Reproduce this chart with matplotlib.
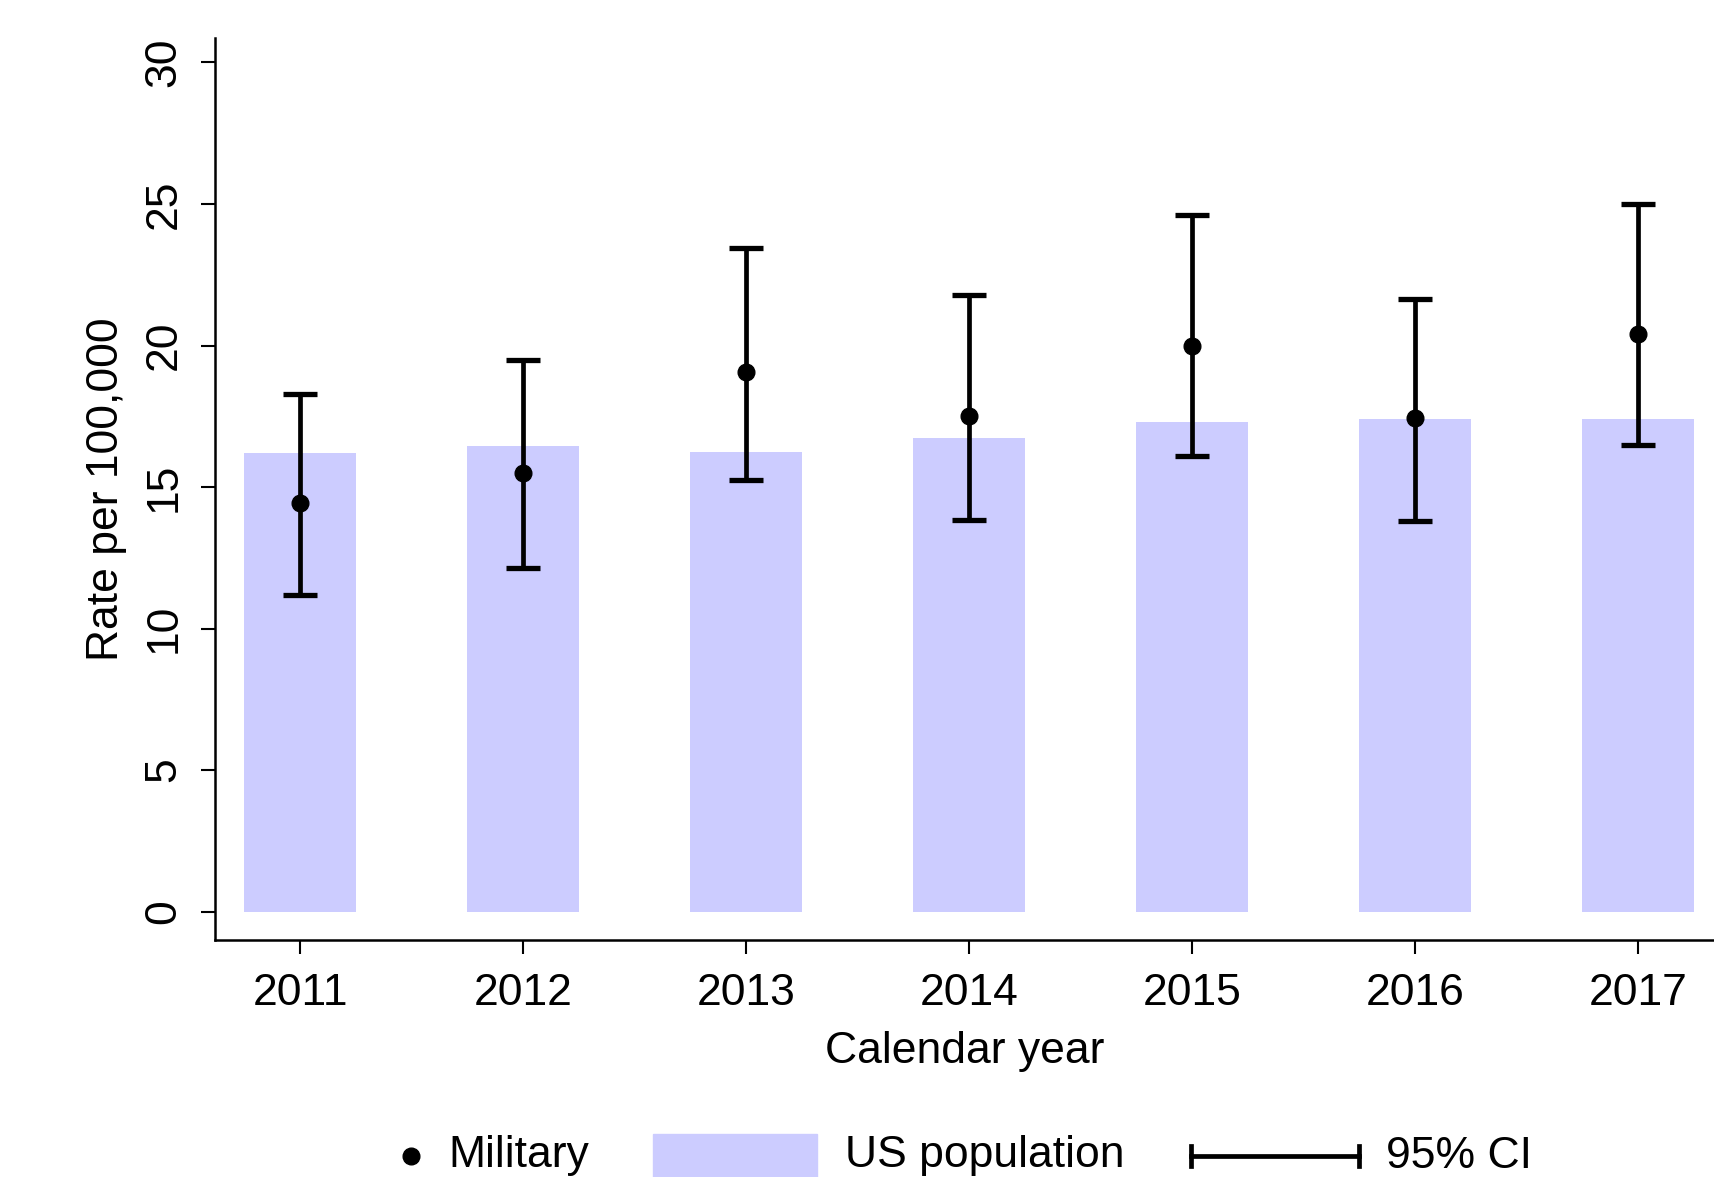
import matplotlib.pyplot as plt
from matplotlib.patches import Rectangle
from matplotlib.lines import Line2D

plt.rcParams['font.family'] = ['Liberation Sans', 'DejaVu Sans']

# Data
years = [2011, 2012, 2013, 2014, 2015, 2016, 2017]
us_population = [16.2, 16.45, 16.25, 16.75, 17.3, 17.4, 17.4]
military = [14.45, 15.5, 19.05, 17.5, 20.0, 17.45, 20.4]
ci_low = [11.2, 12.15, 15.25, 13.85, 16.1, 13.8, 16.5]
ci_high = [18.3, 19.5, 23.45, 21.8, 24.6, 21.65, 25.0]

bar_color = '#ccccff'

fig = plt.figure(figsize=(17.14, 11.77), dpi=100)
ax = fig.add_axes([0.1256, 0.2014, 0.8744, 0.766])

# US population bars
ax.bar(years, us_population, width=0.5, color=bar_color, zorder=1)

# Military rates with 95% CI
err_lo = [m - l for m, l in zip(military, ci_low)]
err_hi = [h - m for m, h in zip(military, ci_high)]
ax.errorbar(years, military, yerr=[err_lo, err_hi], fmt='o', color='black',
            markersize=12, elinewidth=3.4, capsize=12, capthick=3.8, zorder=3)

ax.set_xlim(2010.62, 2017.34)
ax.set_ylim(-1.0, 30.85)
ax.set_xticks(years)
ax.set_yticks([0, 5, 10, 15, 20, 25, 30])

ax.spines['top'].set_visible(False)
ax.spines['right'].set_visible(False)
for s in ['left', 'bottom']:
    ax.spines[s].set_linewidth(1.8)

ax.tick_params(axis='both', length=10, width=1.5, labelsize=32, direction='out')
ax.tick_params(axis='x', pad=14)
ax.tick_params(axis='y', pad=12)
for lab in ax.get_yticklabels():
    lab.set_rotation(90)
    lab.set_va('center')

ax.set_ylabel('Rate per 100,000', fontsize=32, labelpad=12)
ax.set_xlabel('Calendar year', fontsize=32, labelpad=12)

# Legend drawn in a pixel-space overlay along the bottom
lax = fig.add_axes([0, 0, 1, 1], facecolor='none')
lax.set_xlim(0, 1714)
lax.set_ylim(0, 1177)
lax.axis('off')
lax.add_line(Line2D([411], [21], marker='o', color='black', markersize=12))
lax.text(448, 21, 'Military', fontsize=32, va='center', ha='left')
lax.add_patch(Rectangle((653, 0.5), 164, 43, color=bar_color))
lax.text(845, 21, 'US population', fontsize=32, va='center', ha='left')
lax.add_line(Line2D([1191, 1359], [21, 21], color='black', lw=3.4))
lax.add_line(Line2D([1191, 1191], [11, 31], color='black', lw=3.4))
lax.add_line(Line2D([1359, 1359], [11, 31], color='black', lw=3.4))
lax.text(1386, 21, '95% CI', fontsize=32, va='center', ha='left')

fig.savefig('out.png', dpi=100)
